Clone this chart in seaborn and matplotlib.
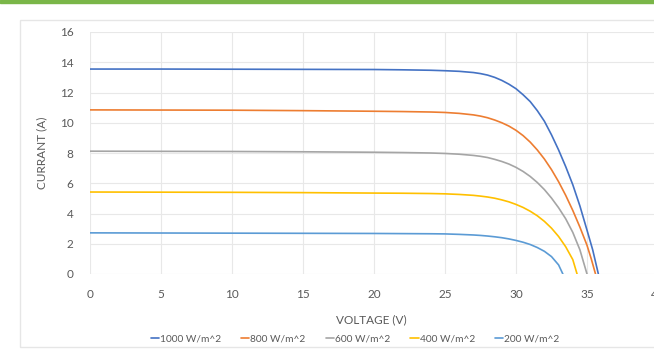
import matplotlib.pyplot as plt
import matplotlib.patches as mpatches
import pandas as pd
import seaborn as sns

# Read data (values estimated from reference)
labels = ["1000 W/m^2", "800 W/m^2", "600 W/m^2", "400 W/m^2", "200 W/m^2"]
colors = ["#4472C4", "#ED7D31", "#A5A5A5", "#FFC000", "#5B9BD5"]

v_1000 = [0, 5, 10, 15, 20, 22, 24, 25, 26, 27, 27.5, 28, 28.5, 29, 29.5, 30, 30.5, 31, 31.5,
          32, 32.5, 33, 33.5, 34, 34.5, 35, 35.4, 35.8]
i_1000 = [13.55, 13.55, 13.54, 13.53, 13.52, 13.5, 13.47, 13.44, 13.4, 13.32, 13.25, 13.15, 13.0,
          12.8, 12.55, 12.25, 11.85, 11.4, 10.8, 10.1, 9.2, 8.2, 7.1, 5.9, 4.5, 2.9, 1.6, 0]

v_800 = [0, 5, 10, 15, 20, 22, 24, 25, 26, 27, 27.5, 28, 28.5, 29, 29.5, 30, 30.5, 31, 31.5,
         32, 32.5, 33, 33.5, 34, 34.5, 35, 35.3, 35.6]
i_800 = [10.85, 10.84, 10.83, 10.8, 10.76, 10.74, 10.71, 10.68, 10.62, 10.52, 10.44, 10.33, 10.18,
         10.0, 9.78, 9.5, 9.15, 8.72, 8.2, 7.6, 6.9, 6.1, 5.2, 4.2, 3.1, 1.9, 1.0, 0]

v_600 = [0, 5, 10, 15, 20, 22, 24, 25, 26, 27, 27.5, 28, 28.5, 29, 29.5, 30, 30.5, 31, 31.5,
         32, 32.5, 33, 33.5, 34, 34.5, 35]
i_600 = [8.12, 8.11, 8.1, 8.08, 8.05, 8.03, 8.0, 7.97, 7.92, 7.84, 7.78, 7.7, 7.58, 7.44, 7.27,
         7.05, 6.78, 6.45, 6.05, 5.58, 5.02, 4.38, 3.65, 2.75, 1.6, 0]

v_400 = [0, 5, 10, 15, 20, 22, 24, 25, 26, 27, 27.5, 28, 28.5, 29, 29.5, 30, 30.5, 31, 31.5,
         32, 32.5, 33, 33.5, 34, 34.3]
i_400 = [5.42, 5.41, 5.4, 5.38, 5.35, 5.34, 5.32, 5.3, 5.26, 5.2, 5.15, 5.09, 5.01, 4.9, 4.77,
         4.6, 4.4, 4.15, 3.85, 3.48, 3.03, 2.48, 1.8, 0.95, 0]

v_200 = [0, 5, 10, 15, 20, 22, 24, 25, 26, 27, 27.5, 28, 28.5, 29, 29.5, 30, 30.5, 31, 31.5,
         32, 32.5, 33, 33.3]
i_200 = [2.72, 2.71, 2.7, 2.69, 2.68, 2.67, 2.66, 2.65, 2.62, 2.58, 2.55, 2.51, 2.46, 2.4, 2.32,
         2.22, 2.1, 1.95, 1.75, 1.5, 1.15, 0.6, 0]

volts = [v_1000, v_800, v_600, v_400, v_200]
amps = [i_1000, i_800, i_600, i_400, i_200]

rows = []
for lab, vs, cs in zip(labels, volts, amps):
    for v, c in zip(vs, cs):
        rows.append({"irr": lab, "V": v, "I": c})
df = pd.DataFrame(rows)

sns.set_style("white")
plt.rcParams["font.family"] = ["Lato", "DejaVu Sans"]

fig = plt.figure(figsize=(6.54, 3.49), dpi=100)
ax = fig.add_axes([90 / 654, 75 / 349, 568 / 654, 242 / 349])

# green bar and chart frame
fig.patches.append(mpatches.Rectangle((0, 346 / 349), 1, 3 / 349, transform=fig.transFigure,
                                      color="#7AB648", zorder=0))
fig.patches.append(mpatches.Rectangle((20 / 654, 2 / 349), 640 / 654, 327 / 349, transform=fig.transFigure,
                                      fill=False, edgecolor="#E6E6E6", lw=1, zorder=0))

sns.lineplot(data=df, x="V", y="I", hue="irr", palette=colors, sort=False,
             estimator=None, units="irr", ax=ax, lw=1.2, legend=False)

ax.set(xlim=(0, 40), ylim=(0, 16), xlabel="VOLTAGE (V)", ylabel="CURRANT (A)")
ax.set_xticks(range(0, 41, 5))
ax.set_yticks(range(0, 17, 2))
ax.grid(True, color="#E8E8E8", lw=0.8)
ax.set_axisbelow(True)
for s in ax.spines.values():
    s.set_visible(False)
ax.tick_params(axis="both", length=0, labelsize=8.5, labelcolor="#595959")
ax.tick_params(axis="y", pad=12)
ax.tick_params(axis="x", pad=11)
ax.xaxis.label.set(color="#595959", fontsize=8.5)
ax.yaxis.label.set(color="#595959", fontsize=8.5)
ax.xaxis.set_label_coords((371 - 90) / 568, -40 / 242)
ax.yaxis.set_label_coords(-43 / 568, 0.5)

handles = [plt.Line2D([], [], color=c, lw=1.2) for c in colors]
fig.legend(handles, labels, loc="center", bbox_to_anchor=(355 / 654, 10 / 349), ncol=5,
           frameon=False, fontsize=7.3, handlelength=0.8, handletextpad=0.1, columnspacing=2.0,
           labelcolor="#595959")

plt.savefig("out.png", dpi=100)
